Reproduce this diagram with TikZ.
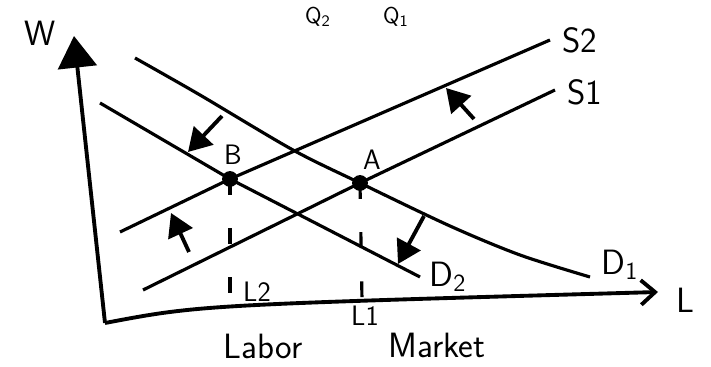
\documentclass[tikz,border=0pt]{standalone}
\usepackage{tikz}
\usetikzlibrary{arrows.meta}

\begin{document}
\begin{tikzpicture}[
  x=0.02cm, y=-0.02cm,
  curve/.style={line width=1.8pt},
  axisline/.style={line width=2.2pt},
  shiftarrow/.style={line width=2.2pt, -{Triangle[length=13pt,width=15pt]}},
  guide/.style={line width=1.8pt, dash pattern=on 9pt off 19pt},
  eq/.style={circle, fill, inner sep=0pt, minimum size=9pt},
  lbl/.style={font=\sffamily\fontsize{20}{24}\selectfont},
  sublbl/.style={font=\sffamily\fontsize{16}{19}\selectfont},
  toplbl/.style={font=\sffamily\fontsize{13}{15}\selectfont},
  every node/.style={inner sep=1pt}
]
\useasboundingbox (0,0) rectangle (711,367);

\coordinate (O) at (105,323);
\coordinate (Wtip) at (74,36);
\coordinate (Ltip) at (658,292);
\node[eq] (B) at (230,179) {};
\node[eq] (A) at (360,183) {};

\draw[axisline, -{Triangle[length=18pt,width=22pt]}] (O) -- (Wtip);
\draw[axisline, -{Straight Barb[length=8pt,width=14pt]}] (O) .. controls (200,305) .. (Ltip);

\draw[curve] (120,232) -- (B.center) -- (550,40);
\draw[curve] (143,290) -- (A.center) -- (555,90);
\draw[curve] plot[smooth] coordinates {(135,58) (200,95) (293,150) (A.center) (450,226) (520,255) (590,277)};
\draw[curve] (100,103) -- (B.center) -- (420,277);

\draw[guide] (B.center) -- (230,309);
\draw[guide] (A.center) -- (362,300);

\draw[shiftarrow] (222,116) -- (188,152);
\draw[shiftarrow] (424,216) -- (398,264);
\draw[shiftarrow] (189,252) -- (171,213);
\draw[shiftarrow] (474,119) -- (446,88);

\node[lbl] (Wlbl) at (40,33) {W};
\node[lbl, anchor=west] (S2lbl) at (560,40) {S2};
\node[lbl, anchor=west] (S1lbl) at (565,92) {S1};
\node[lbl] (D1lbl) at (620,265) {D\textsubscript{1}};
\node[lbl] (D2lbl) at (448,277) {D\textsubscript{2}};
\node[lbl] (Llbl) at (685,300) {L};
\node[sublbl] (Blbl) at (233,155) {B};
\node[sublbl] (Albl) at (372,160) {A};
\node[sublbl] (L2lbl) at (257,292) {L2};
\node[sublbl] (L1lbl) at (365,316) {L1};
\node[lbl] (labor) at (263,346) {Labor};
\node[lbl] (market) at (437,345) {Market};
\node[toplbl] (Q2lbl) at (318,17) {Q\textsubscript{2}};
\node[toplbl] (Q1lbl) at (396,17) {Q\textsubscript{1}};

\end{tikzpicture}
\end{document}
